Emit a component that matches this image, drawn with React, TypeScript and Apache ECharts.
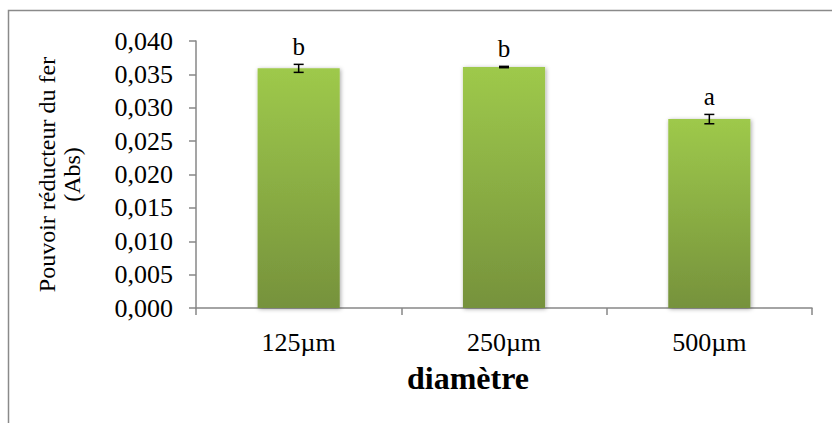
import React, { useEffect, useRef } from "react";
import * as echarts from "echarts";

const categories = ["125µm", "250µm", "500µm"];
const means = [0.0359, 0.0361, 0.0283];
const errors = [0.0006, 0.0001, 0.0007];
const letters = ["b", "b", "a"];
const yTicks = { min: 0, max: 0.04, interval: 0.005 };

const FONT = "'Liberation Serif', 'Times New Roman', serif";

export default function App() {
  const ref = useRef<HTMLDivElement>(null);
  useEffect(() => {
    if (!ref.current) return;
    const chart = echarts.init(ref.current, null, { renderer: "svg" });
    const errData = means.map((m, i) => [i, m, errors[i], letters[i]]);
    chart.setOption({
      animation: false,
      backgroundColor: "#ffffff",
      textStyle: { fontFamily: FONT },
      graphic: [
        {
          type: "rect",
          shape: { x: 8.5, y: 10.5, width: 1000, height: 1000 },
          style: { fill: "none", stroke: "#8a8a8a", lineWidth: 1.5 },
          silent: true,
        },
      ],
      grid: { left: 196, right: 20, top: 41, bottom: 115, containLabel: false },
      xAxis: {
        type: "category",
        data: categories,
        name: "diamètre",
        nameLocation: "middle",
        nameGap: 54,
        nameTextStyle: {
          fontFamily: FONT,
          fontSize: 32,
          fontWeight: "bold",
          color: "#000",
          padding: [0, 72, 0, 0],
        },
        axisLine: { lineStyle: { color: "#878787", width: 1.5 } },
        axisTick: { show: true, length: 7, alignWithLabel: false, lineStyle: { color: "#878787", width: 1.5 } },
        axisLabel: { fontFamily: FONT, fontSize: 26, color: "#000", margin: 21 },
        splitLine: { show: false },
      },
      yAxis: {
        type: "value",
        min: yTicks.min,
        max: yTicks.max,
        interval: yTicks.interval,
        name: "Pouvoir réducteur du fer\n(Abs)",
        nameLocation: "middle",
        nameGap: 112,
        nameRotate: 90,
        nameTextStyle: { fontFamily: FONT, fontSize: 24, color: "#000", lineHeight: 25 },
        axisLine: { show: true, lineStyle: { color: "#878787", width: 1.5 } },
        axisTick: { show: true, length: 7, lineStyle: { color: "#878787", width: 1.5 } },
        axisLabel: {
          fontFamily: FONT,
          fontSize: 26,
          color: "#000",
          margin: 23,
          formatter: (v: number) => v.toFixed(3).replace(".", ","),
        },
        splitLine: { show: false },
      },
      series: [
        {
          type: "bar",
          data: means,
          barWidth: "40%",
          itemStyle: {
            color: new echarts.graphic.LinearGradient(0, 0, 0, 1, [
              { offset: 0, color: "#9ec94b" },
              { offset: 1, color: "#76923c" },
            ]),
            shadowBlur: 4,
            shadowColor: "rgba(0,0,0,0.35)",
            shadowOffsetX: 1,
            shadowOffsetY: 1,
          },
          z: 2,
        },
        {
          type: "custom",
          data: errData,
          z: 5,
          renderItem: (params: any, api: any) => {
            const i = api.value(0);
            const m = api.value(1);
            const e = api.value(2);
            const letter = letters[params.dataIndex];
            const top = api.coord([i, m + e]);
            const bot = api.coord([i, m - e]);
            const half = 5;
            const st = { stroke: "#000", lineWidth: 1.5 };
            return {
              type: "group",
              children: [
                { type: "line", shape: { x1: top[0], y1: top[1], x2: bot[0], y2: bot[1] }, style: st },
                { type: "line", shape: { x1: top[0] - half, y1: top[1], x2: top[0] + half, y2: top[1] }, style: st },
                { type: "line", shape: { x1: bot[0] - half, y1: bot[1], x2: bot[0] + half, y2: bot[1] }, style: st },
                {
                  type: "text",
                  x: top[0],
                  y: top[1] - 5,
                  style: {
                    text: letter,
                    fontFamily: FONT,
                    fontSize: 25,
                    fill: "#000",
                    align: "center",
                    verticalAlign: "bottom",
                  },
                },
              ],
            };
          },
        },
      ],
    });
    return () => chart.dispose();
  }, []);
  return (
    <div
      ref={ref}
      style={{ position: "fixed", left: 0, top: 0, width: 832, height: 423 }}
    />
  );
}
